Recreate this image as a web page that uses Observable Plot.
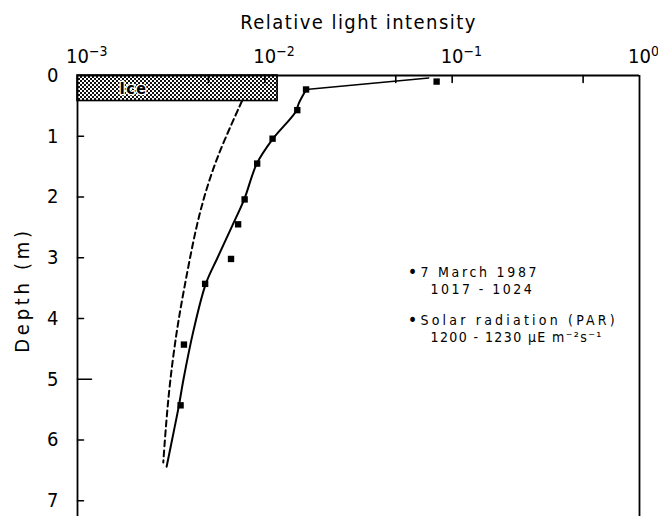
<!DOCTYPE html>
<html><head><meta charset="utf-8">
<script src="https://cdn.jsdelivr.net/npm/d3@7"></script>
<script src="https://cdn.jsdelivr.net/npm/@observablehq/plot@0.6"></script>
<style>html,body{margin:0;padding:0;background:#fff}</style>
</head><body><div id="chart"></div>
<script>
// ---- data ----
const xTicks = [1e-3, 1e-2, 1e-1, 1];
const xTickBase = "10";
const xTickExponents = ["-3", "-2", "-1", "0"];
const xInnerTicks = [0.005, 0.01, 0.05, 0.1, 0.5];
const depthTicks = [0, 1, 2, 3, 4, 5, 6, 7];
const longDepthTicks = [5];
const iceIntensity = [0.001, 0.0117];
const iceDepth = [0, 0.42];
const iceLabel = "Ice";
const obsDepth = [0.10, 0.23, 0.57, 1.04, 1.45, 2.04, 2.45, 3.02, 3.43, 4.43, 5.43];
const obsIntensity = [0.0826, 0.0166, 0.0149, 0.0110, 0.0091, 0.0078, 0.0072, 0.0066, 0.0048, 0.0037, 0.00355];
const fitTopDepth = [0.04, 0.23];
const fitTopIntensity = [0.075, 0.0166];
const fitDepth = [0.23, 0.45, 0.6, 1.05, 1.45, 2.04, 2.5, 3.0, 3.43, 4.2, 5.0, 5.43, 5.85, 6.44];
const fitIntensity = [0.01663, 0.01522, 0.01458, 0.01099, 0.00906, 0.00776, 0.00664, 0.00559, 0.00484, 0.00416, 0.00368, 0.00348, 0.00327, 0.00299];
const dashDepth = [0.42, 1.08, 1.62, 2.2, 2.72, 3.54, 4.2, 5.08, 5.85, 6.37];
const dashIntensity = [0.00755, 0.00604, 0.00516, 0.00454, 0.00415, 0.00369, 0.00338, 0.00310, 0.00295, 0.00287];
const title = "Relative light intensity";
const yLabel = "Depth (m)";
const legendA = ["7 March 1987", "1017 - 1024"];
const legendB = ["Solar radiation (PAR)", "1200 - 1230 µE m⁻²s⁻¹"];

// ---- build ----
const zip = (xs, ys) => xs.map((v, i) => ({x: v, y: ys[i]}));
const obs = zip(obsIntensity, obsDepth);
const fitTop = zip(fitTopIntensity, fitTopDepth);
const fit = zip(fitIntensity, fitDepth);
const dash = zip(dashIntensity, dashDepth);
const font = "'DejaVu Sans Condensed', 'DejaVu Sans', sans-serif";
const tickShape = {draw(ctx, l) { ctx.moveTo(0, 0); ctx.lineTo(0, -l); }};
const T = (opts) => ({text: d => d, textAnchor: "middle", lineAnchor: "middle", ...opts});
// letter spacing (px) per text string, applied after rendering
const spacing = new Map([
  [iceLabel, 1.5], [title, 1.45], [yLabel, 3.7],
  [legendA[0], 2.7], [legendA[1], 2.45], [legendB[0], 3.2], [legendB[1], 1.4]
]);

const chart = Plot.plot({
  width: 658, height: 516,
  marginLeft: 77, marginRight: 19, marginTop: 75, marginBottom: 0,
  style: {fontFamily: font, background: "white", color: "black"},
  x: {type: "log", domain: [xTicks[0], xTicks[xTicks.length - 1]]},
  y: {domain: [0, 7.26], reverse: true},
  marks: [
    Plot.rect([iceLabel], {x1: iceIntensity[0], x2: iceIntensity[1], y1: iceDepth[0], y2: iceDepth[1],
      fill: "url(#icePattern)", stroke: "black", strokeWidth: 1.6}),
    Plot.text([iceLabel], T({frameAnchor: "top-left", dx: 56, dy: 13, fontSize: 16, fontWeight: "bold",
      stroke: "white", strokeWidth: 2.5, fill: "black"})),
    Plot.ruleX([xTicks[0], xTicks[xTicks.length - 1]], {strokeWidth: 1.8}),
    Plot.ruleY([0], {strokeWidth: 1.8}),
    Plot.axisX({anchor: "top", ticks: xTicks,
      tickFormat: d => xTickBase + "^" + xTickExponents[xTicks.indexOf(d)],
      tickSize: 0, tickPadding: 13, fontSize: 20, label: null}),
    Plot.axisY({anchor: "left", ticks: depthTicks, tickFormat: d => String(d),
      tickSize: 0, tickPadding: 19, fontSize: 20, label: null}),
    Plot.vector(depthTicks.filter(d => d > 0 && !longDepthTicks.includes(d)),
      {y: d => d, frameAnchor: "left", rotate: 90, length: 6, anchor: "start", shape: tickShape, strokeWidth: 1.6}),
    Plot.vector(longDepthTicks,
      {y: d => d, frameAnchor: "left", rotate: 90, length: 14, anchor: "start", shape: tickShape, strokeWidth: 1.6}),
    Plot.vector(xInnerTicks,
      {x: d => d, frameAnchor: "top", rotate: 180, length: 7, anchor: "start", shape: tickShape, strokeWidth: 1.6}),
    Plot.line(dash, {x: "x", y: "y", curve: "basis", strokeWidth: 2, strokeDasharray: "6,4"}),
    Plot.line(fitTop, {x: "x", y: "y", strokeWidth: 1.5}),
    Plot.line(fit, {x: "x", y: "y", curve: "catmull-rom", strokeWidth: 2}),
    Plot.dot(obs, {x: "x", y: "y", symbol: "square", r: 3.6, fill: "black"}),
    Plot.text([title], T({frameAnchor: "top", dy: -53, fontSize: 20})),
    Plot.text([yLabel], T({frameAnchor: "left", dx: -55, dy: -6, rotate: -90, fontSize: 20})),
    Plot.text(["•"], T({frameAnchor: "top-right", dx: -227, dy: 197, fontSize: 18})),
    Plot.text([legendA[0]], T({frameAnchor: "top-right", dx: -219, dy: 197.5, textAnchor: "start", fontSize: 14})),
    Plot.text([legendA[1]], T({frameAnchor: "top-right", dx: -209, dy: 214, textAnchor: "start", fontSize: 14})),
    Plot.text(["•"], T({frameAnchor: "top-right", dx: -227, dy: 245, fontSize: 18})),
    Plot.text([legendB[0]], T({frameAnchor: "top-right", dx: -219, dy: 245.5, textAnchor: "start", fontSize: 14})),
    Plot.text([legendB[1]], T({frameAnchor: "top-right", dx: -209, dy: 262, textAnchor: "start", fontSize: 14}))
  ]
});

d3.select(chart).selectAll("text").each(function() {
  const ls = spacing.get(this.textContent);
  if (ls !== undefined) this.setAttribute("letter-spacing", ls);
});

// x tick labels: powers of ten with real superscripts
d3.select(chart).selectAll("text").filter(function() { return this.textContent.includes("^"); }).each(function() {
  const [b, e] = this.textContent.split("^");
  const t = d3.select(this).text(null).attr("text-anchor", "start");
  t.append("tspan").attr("dx", -11.5).text(b);
  t.append("tspan").attr("dy", "-0.5em").attr("font-size", 14).text(e.replace("-", "−"));
});

// pattern for the ice layer
const defs = d3.select(chart).insert("defs", ":first-child");
const pat = defs.append("pattern").attr("id", "icePattern").attr("patternUnits", "userSpaceOnUse")
  .attr("width", 4).attr("height", 4);
pat.append("rect").attr("width", 4).attr("height", 4).attr("fill", "white");
pat.append("rect").attr("x", 0).attr("y", 0).attr("width", 2).attr("height", 2).attr("fill", "#111");
pat.append("rect").attr("x", 2).attr("y", 2).attr("width", 2).attr("height", 2).attr("fill", "#111");

document.getElementById("chart").appendChild(chart);
</script>
</body></html>
